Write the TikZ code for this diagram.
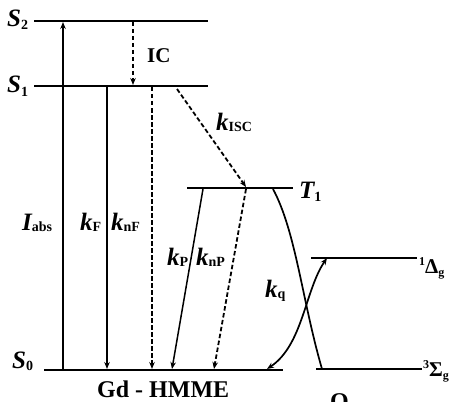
\documentclass[tikz,border=0pt]{standalone}
\usepackage{fontspec}
\setmainfont{Liberation Serif}
\usetikzlibrary{arrows.meta}
\newcommand\mylab[3][-1pt]{{\fontsize{25}{25}\selectfont\bfseries\itshape #2}\raisebox{#1}{\fontsize{14}{14}\selectfont\bfseries #3}}
\begin{document}
\begin{tikzpicture}[x=1pt,y=-1pt,
  level/.style={line width=2.6pt},
  tip/.style={-{Stealth[length=7pt,width=5.5pt]}},
  solidarr/.style={line width=2.1pt,tip},
  thinarr/.style={line width=1.5pt,tip},
  dasharr/.style={line width=1.8pt,dash pattern=on 4.5pt off 2.5pt,tip},
  curve/.style={line width=1.7pt},
  lab/.style={inner sep=0pt,anchor=base west}]
\useasboundingbox (0,0) rectangle (457,401);
\clip (0,0) rectangle (457,401);
% level end points
\coordinate (S2a) at (34,21);  \coordinate (S2b) at (208,21);
\coordinate (S1a) at (34,86);  \coordinate (S1b) at (208,86);
\coordinate (S0a) at (44,370); \coordinate (S0b) at (283,370);
\coordinate (T1a) at (187,188); \coordinate (T1b) at (293,188);
\coordinate (Da) at (311,258); \coordinate (Db) at (417,258);
\coordinate (Sa) at (316,369); \coordinate (Sb) at (422,369);
\draw[level] (S2a) -- (S2b);
\draw[level] (S1a) -- (S1b);
\draw[level] (S0a) -- (S0b);
\draw[level] (T1a) -- (T1b);
\draw[level] (Da) -- (Db);
\draw[level] (Sa) -- (Sb);
% transition end points
\coordinate (absB) at (63,369); \coordinate (absT) at (63,22);
\coordinate (kFt) at (107,87); \coordinate (kFb) at (107,369);
\coordinate (nFt) at (152,87); \coordinate (nFb) at (152,369);
\coordinate (ICt) at (133,22); \coordinate (ICb) at (133,85);
\coordinate (ISCt) at (177,89); \coordinate (ISCb) at (246,187);
\coordinate (kPt) at (203,189); \coordinate (kPb) at (172,369);
\coordinate (nPt) at (246,189); \coordinate (nPb) at (214,369);
\coordinate (qT) at (273,189); \coordinate (qS) at (322,369);
\coordinate (oS0) at (267,369); \coordinate (oD) at (327,258);
\draw[solidarr] (absB) -- (absT);
\draw[solidarr] (kFt) -- (kFb);
\draw[dasharr] (nFt) -- (nFb);
\draw[dasharr] (ICt) -- (ICb);
\draw[dasharr] (ISCt) -- (ISCb);
\draw[thinarr] (kPt) -- (kPb);
\draw[dasharr] (nPt) -- (nPb);
\draw[curve] (qT) .. controls (296,232) and (302,300) .. (qS);
\draw[curve,{Stealth[length=7pt,width=5.5pt]}-{Stealth[length=7pt,width=5.5pt]}] (oS0) .. controls (303,345) and (305,290) .. (oD);
% labels
\node[lab] (lS2) at (7,27) {\mylab[-3pt]{S}{2}};
\node[lab] (lS1) at (7,93) {\mylab[-3pt]{S}{1}};
\node[lab] (lS0) at (12,368) {\mylab[-2pt]{S}{0}};
\node[lab] (lT1) at (299,198) {\mylab[-3pt]{T}{1}};
\node[lab] (lIabs) at (22,230) {\mylab{I}{abs}};
\node[lab] (lkF) at (80,230) {\mylab{k}{F}};
\node[lab] (lknF) at (111,230) {\mylab{k}{nF}};
\node[lab] (lkISC) at (216,130) {\mylab{k}{ISC}};
\node[lab] (lkP) at (167,265) {\mylab{k}{P}};
\node[lab] (lknP) at (196,265) {\mylab{k}{nP}};
\node[lab] (lkq) at (265,297) {\mylab{k}{q}};
\node[lab] (lIC) at (147,63) {\fontsize{21}{21}\selectfont\bfseries IC};
\node[lab] (lD) at (419,273) {\raisebox{8pt}{\fontsize{12}{12}\selectfont\bfseries 1}{\fontsize{21}{21}\selectfont\bfseries Δ}\raisebox{-3pt}{\fontsize{12}{12}\selectfont\bfseries g}};
\node[lab] (lSig) at (423,376) {\raisebox{8pt}{\fontsize{12}{12}\selectfont\bfseries 3}{\fontsize{21}{21}\selectfont\bfseries Σ}\raisebox{-3pt}{\fontsize{12}{12}\selectfont\bfseries g}};
\node[lab] (lGd) at (97,397) {\fontsize{24}{24}\selectfont\bfseries Gd - HMME};
\node[lab] (lO2) at (330,409) {\fontsize{24}{24}\selectfont\bfseries O\raisebox{-3pt}{\fontsize{13}{13}\selectfont 2}};
\end{tikzpicture}
\end{document}
